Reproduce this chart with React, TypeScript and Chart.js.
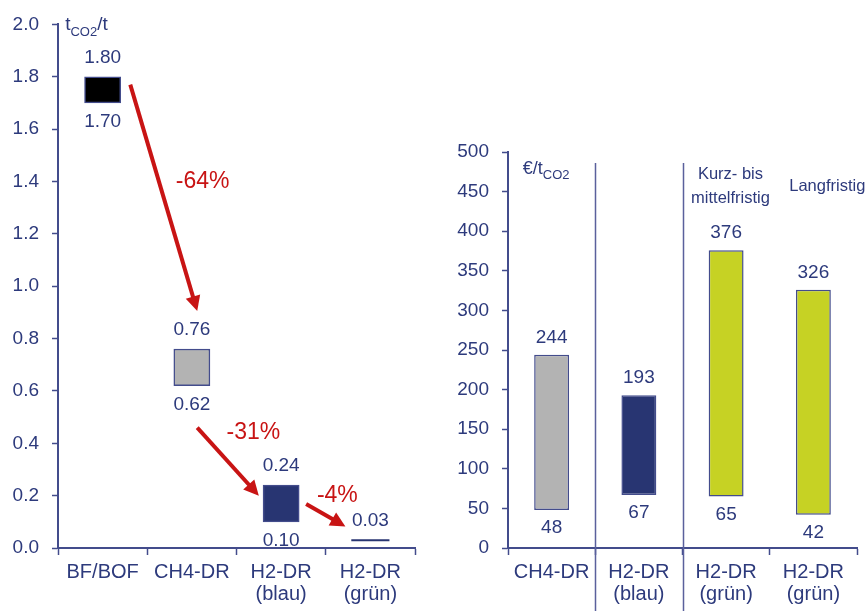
import React, { useEffect, useRef } from "react";
import { Chart, registerables } from "chart.js";

Chart.register(...registerables);

// ---------- data: left chart (emissions, t CO2 / t steel) ----------
const emissionCategories = [["BF/BOF"], ["CH4-DR"], ["H2-DR", "(blau)"], ["H2-DR", "(grün)"]];
const emissionLow = [1.7, 0.62, 0.1, 0.03];
const emissionHigh = [1.8, 0.76, 0.24, 0.03];
const emissionColors = ["#000000", "#b3b3b3", "#283572", "#283572"];
const emissionTickMax = 2.0;
const emissionTickStep = 0.2;
const reductionLabels = ["-64%", "-31%", "-4%"];

// ---------- data: right chart (abatement cost, € / t CO2) ----------
const costCategories = [["CH4-DR"], ["H2-DR", "(blau)"], ["H2-DR", "(grün)"], ["H2-DR", "(grün)"]];
const costLow = [48, 67, 65, 42];
const costHigh = [244, 193, 376, 326];
const costColors = ["#b3b3b3", "#283572", "#c6d224", "#c6d224"];
const costTickMax = 500;
const costTickStep = 50;
const horizonLabels = [["Kurz- bis", "mittelfristig"], ["Langfristig"]];

// ---------- styling ----------
const NAVY = "#2d3a7c";
const AXIS = "#434c8c";
const RED = "#c81414";
const FONT = "'Liberation Sans', Arial, sans-serif";

// annotation placement (in data coordinates: category index, value)
const arrowGeom = [
  { from: [0.31, 1.77], to: [1.06, 0.905] },
  { from: [1.06, 0.46], to: [1.75, 0.2] },
  { from: [2.28, 0.168], to: [2.72, 0.082] },
];
const reductionTextPos = [
  [1.12, 1.4],
  [1.69, 0.44],
  [2.63, 0.2],
];

function drawSubscriptUnit(ctx, x, y, pre, sub, post, size) {
  ctx.save();
  ctx.fillStyle = NAVY;
  ctx.textAlign = "left";
  ctx.textBaseline = "alphabetic";
  ctx.font = `${size}px ${FONT}`;
  ctx.fillText(pre, x, y);
  let cx = x + ctx.measureText(pre).width;
  const subSize = Math.round(size * 0.7);
  ctx.font = `${subSize}px ${FONT}`;
  ctx.fillText(sub, cx, y + size * 0.28);
  cx += ctx.measureText(sub).width;
  ctx.font = `${size}px ${FONT}`;
  ctx.fillText(post, cx, y);
  ctx.restore();
}

function makeValueLabelPlugin(low, high, fmt, gapAbove, gapBelow) {
  return {
    id: "valueLabels",
    afterDatasetsDraw(chart) {
      const ctx = chart.ctx;
      const meta = chart.getDatasetMeta(0);
      const ys = chart.scales.y;
      ctx.save();
      ctx.font = `19px ${FONT}`;
      ctx.fillStyle = NAVY;
      ctx.textAlign = "center";
      ctx.textBaseline = "middle";
      meta.data.forEach((el, i) => {
        const x = el.x;
        ctx.fillText(fmt(high[i]), x, ys.getPixelForValue(high[i]) - gapAbove);
        if (high[i] !== low[i]) {
          ctx.fillText(fmt(low[i]), x, ys.getPixelForValue(low[i]) + gapBelow);
        }
      });
      ctx.restore();
    },
  };
}

const leftAnnotations = {
  id: "leftAnnotations",
  afterDatasetsDraw(chart) {
    const ctx = chart.ctx;
    const xs = chart.scales.x;
    const ys = chart.scales.y;
    ctx.save();
    // arrows
    arrowGeom.forEach((a) => {
      const x1 = xs.getPixelForValue(a.from[0]);
      const y1 = ys.getPixelForValue(a.from[1]);
      const x2 = xs.getPixelForValue(a.to[0]);
      const y2 = ys.getPixelForValue(a.to[1]);
      const ang = Math.atan2(y2 - y1, x2 - x1);
      const headLen = 15;
      const headW = 7.5;
      const bx = x2 - headLen * Math.cos(ang);
      const by = y2 - headLen * Math.sin(ang);
      ctx.strokeStyle = RED;
      ctx.fillStyle = RED;
      ctx.lineWidth = 4;
      ctx.lineCap = "butt";
      ctx.beginPath();
      ctx.moveTo(x1, y1);
      ctx.lineTo(bx + Math.cos(ang) * 2, by + Math.sin(ang) * 2);
      ctx.stroke();
      ctx.beginPath();
      ctx.moveTo(x2, y2);
      ctx.lineTo(bx + headW * Math.sin(ang), by - headW * Math.cos(ang));
      ctx.lineTo(bx - headW * Math.sin(ang), by + headW * Math.cos(ang));
      ctx.closePath();
      ctx.fill();
    });
    // reduction labels
    ctx.font = `23px ${FONT}`;
    ctx.fillStyle = RED;
    ctx.textAlign = "center";
    ctx.textBaseline = "middle";
    reductionLabels.forEach((t, i) => {
      const p = reductionTextPos[i];
      ctx.fillText(t, xs.getPixelForValue(p[0]), ys.getPixelForValue(p[1]));
    });
    ctx.restore();
    // unit
    drawSubscriptUnit(ctx, xs.getPixelForValue(-0.42), ys.getPixelForValue(1.977), "t", "CO2", "/t", 19);
  },
};

const rightAnnotations = {
  id: "rightAnnotations",
  afterDatasetsDraw(chart) {
    const ctx = chart.ctx;
    const xs = chart.scales.x;
    const ys = chart.scales.y;
    ctx.save();
    // separators between groups
    ctx.strokeStyle = "#5a609c";
    ctx.lineWidth = 1.5;
    [0.5, 1.5].forEach((v) => {
      const x = Math.round(xs.getPixelForValue(v)) + 0.5;
      ctx.beginPath();
      ctx.moveTo(x, ys.getPixelForValue(486));
      ctx.lineTo(x, chart.height);
      ctx.stroke();
    });
    // horizon labels
    ctx.fillStyle = NAVY;
    ctx.font = `16.5px ${FONT}`;
    ctx.textAlign = "center";
    ctx.textBaseline = "middle";
    horizonLabels[0].forEach((t, i) => {
      ctx.fillText(t, xs.getPixelForValue(2.05), ys.getPixelForValue(472 - i * 31));
    });
    ctx.fillText(horizonLabels[1][0], xs.getPixelForValue(3.16), ys.getPixelForValue(456));
    ctx.restore();
    drawSubscriptUnit(ctx, xs.getPixelForValue(-0.33), ys.getPixelForValue(472), "€/t", "CO2", "", 18);
  },
};

function baseScales(yMax, yStep, yWidth, fmt) {
  return {
    x: {
      offset: true,
      grid: {
        offset: true,
        drawOnChartArea: false,
        drawTicks: true,
        tickLength: 7,
        tickColor: AXIS,
        tickWidth: 1.5,
      },
      border: { color: AXIS, width: 2 },
      ticks: {
        color: NAVY,
        font: { family: FONT, size: 20, lineHeight: 1.1 },
        padding: 6,
        maxRotation: 0,
        autoSkip: false,
      },
      afterFit: (s) => {
        s.height = 63;
      },
    },
    y: {
      min: 0,
      max: yMax,
      grid: {
        drawOnChartArea: false,
        drawTicks: true,
        tickLength: 6,
        tickColor: AXIS,
        tickWidth: 1.5,
      },
      border: { color: AXIS, width: 2 },
      ticks: {
        stepSize: yStep,
        color: NAVY,
        font: { family: FONT, size: 19 },
        padding: 13,
        callback: fmt,
      },
      afterFit: (s) => {
        s.width = yWidth;
      },
    },
  };
}

function EmissionChart() {
  const ref = useRef(null);
  useEffect(() => {
    const chart = new Chart(ref.current, {
      type: "bar",
      data: {
        labels: emissionCategories,
        datasets: [
          {
            data: emissionLow.map((lo, i) => [lo, emissionHigh[i]]),
            backgroundColor: emissionColors,
            borderColor: AXIS,
            borderWidth: (c) => (emissionLow[c.dataIndex] === emissionHigh[c.dataIndex] ? 0 : 1.5),
            borderSkipped: false,
            inflateAmount: (c) => (emissionLow[c.dataIndex] === emissionHigh[c.dataIndex] ? 1 : 0.33),
            categoryPercentage: 1,
            barPercentage: 0.405,
          },
        ],
      },
      options: {
        responsive: false,
        animation: false,
        layout: { padding: { top: 24, right: 25, left: 0, bottom: 0 } },
        plugins: { legend: { display: false }, tooltip: { enabled: false } },
        scales: baseScales(emissionTickMax, emissionTickStep, 58, (v) => Number(v).toFixed(1)),
      },
      plugins: [
        makeValueLabelPlugin(emissionLow, emissionHigh, (v) => v.toFixed(2), 19, 19),
        leftAnnotations,
      ],
    });
    return () => chart.destroy();
  }, []);
  return <canvas ref={ref} width={440} height={611} style={{ position: "absolute", left: 0, top: 0, width: 440, height: 611 }} />;
}

function CostChart() {
  const ref = useRef(null);
  useEffect(() => {
    const chart = new Chart(ref.current, {
      type: "bar",
      data: {
        labels: costCategories,
        datasets: [
          {
            data: costLow.map((lo, i) => [lo, costHigh[i]]),
            backgroundColor: costColors,
            borderColor: AXIS,
            borderWidth: 1.5,
            borderSkipped: false,
            categoryPercentage: 1,
            barPercentage: 0.4,
          },
        ],
      },
      options: {
        responsive: false,
        animation: false,
        layout: { padding: { top: 152, right: 8, left: 0, bottom: 0 } },
        plugins: { legend: { display: false }, tooltip: { enabled: false } },
        scales: baseScales(costTickMax, costTickStep, 68, (v) => String(v)),
      },
      plugins: [makeValueLabelPlugin(costLow, costHigh, (v) => String(v), 17, 18), rightAnnotations],
    });
    return () => chart.destroy();
  }, []);
  return <canvas ref={ref} width={425} height={611} style={{ position: "absolute", left: 440, top: 0, width: 425, height: 611 }} />;
}

export default function App() {
  return (
    <div style={{ position: "absolute", left: 0, top: 0, width: 865, height: 611, background: "#ffffff", overflow: "hidden" }}>
      <EmissionChart />
      <CostChart />
    </div>
  );
}
